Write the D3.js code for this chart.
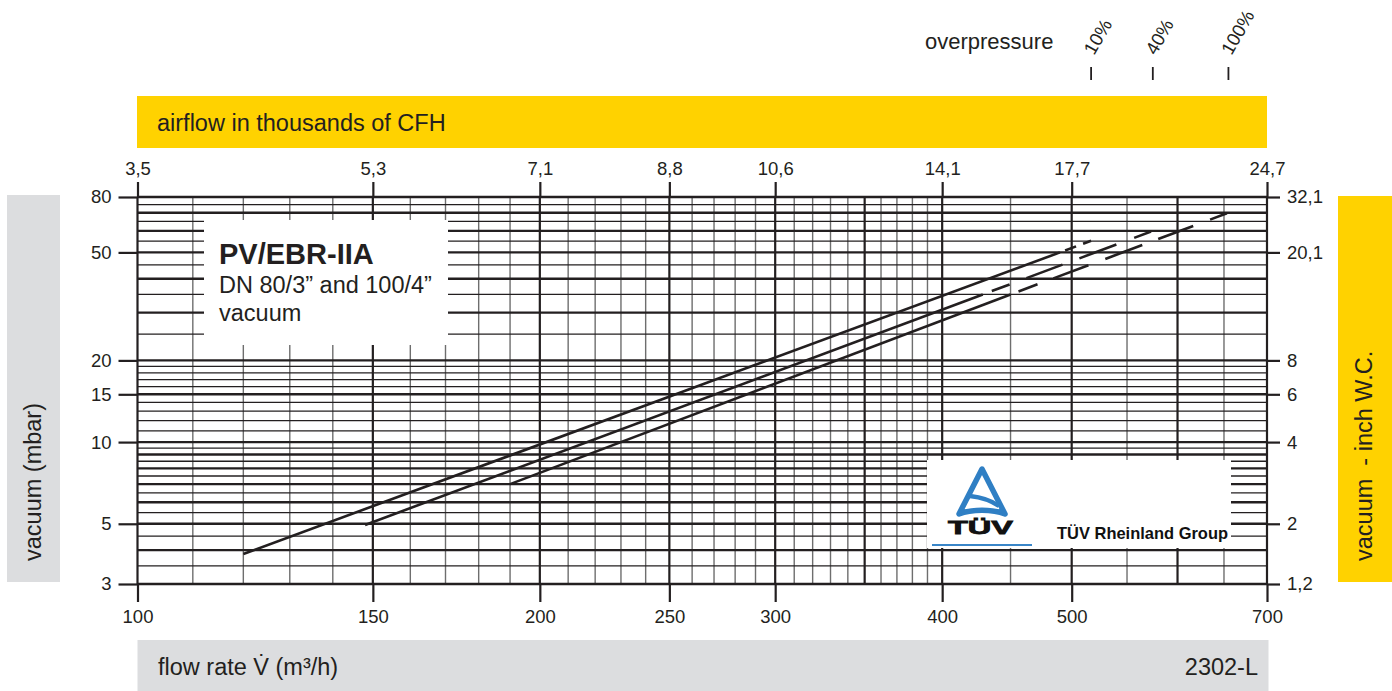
<!DOCTYPE html>
<html>
<head>
<meta charset="utf-8">
<script src="https://cdn.jsdelivr.net/npm/d3@7"></script>
<style>
	html, body { margin: 0; padding: 0; background: #fff; }
	svg { display: block; font-family: "Liberation Sans", Arial, sans-serif; }
</style>
</head>
<body>
<svg id="chart" width="1392" height="691"></svg>
<script>
'use strict';

// flow rate axis (m3/h) and the matching airflow in thousands of CFH
var flowTicks = [100, 150, 200, 250, 300, 400, 500, 700];
var flowLabels = ['100', '150', '200', '250', '300', '400', '500', '700'];
var cfhLabels = ['3,5', '5,3', '7,1', '8,8', '10,6', '14,1', '17,7', '24,7'];
var flowGridMajor = [100, 150, 200, 250, 300, 350, 400, 500, 600, 700];
var flowGridMinor = [110, 120, 130, 140, 160, 170, 180, 190, 210, 220, 230, 240, 260, 270, 280, 290,
	310, 320, 330, 340, 360, 370, 380, 390, 450, 550, 650];

// vacuum axis (mbar) and the matching inch W.C.
var vacuumTicks = [3, 5, 10, 15, 20, 50, 80];
var vacuumLabels = ['3', '5', '10', '15', '20', '50', '80'];
var inchLabels = ['1,2', '2', '4', '6', '8', '20,1', '32,1'];
var vacuumGridMajor = [3, 4, 5, 6, 7, 8, 9, 10, 15, 20, 30, 40, 50, 60, 70, 80];
var vacuumGridMinor = [3.5, 4.5, 5.5, 6.5, 7.5, 8.5, 9.5, 11, 12, 13, 14, 16, 17, 18, 19, 25, 35, 45, 55, 65, 75];

// curves: start, end of solid part, end of dashed part
var curveNames = ['10%', '40%', '100%'];
var curveFlow = [[120, 490, 517], [148, 429, 575], [190, 450, 655]];
var curveVacuum = [[3.87, 50, 55.2], [4.95, 35, 60], [7, 35, 70]];
var curveDash = ['0 5.5 11.7 7.5 30', '0 9.6 19 18 38.5 18 39.5 19 18 60', '0 8.5 20.3 17 37.4 18 39.5 17 37.4 18 18 60'];

var ink = '#231f20';
var yellow = '#ffd200';
var grey = '#dcdddf';
var fontFamily = '"Liberation Sans", Arial, sans-serif';

var svg = d3.select('#chart');

var x = d3.scaleLog().domain([100, 700]).range([137.5, 1267]);
var y = d3.scaleLog().domain([3, 80]).range([584, 197]);

// title bands
svg.append('rect').attr('x', 137).attr('y', 96).attr('width', 1130).attr('height', 52).attr('fill', yellow);
svg.append('rect').attr('x', 7).attr('y', 195).attr('width', 53).attr('height', 387).attr('fill', grey);
svg.append('rect').attr('x', 1338).attr('y', 196).attr('width', 54).attr('height', 386).attr('fill', yellow);
svg.append('rect').attr('x', 137.5).attr('y', 640).attr('width', 1131).attr('height', 51).attr('fill', grey);

svg.append('text').attr('x', 157).attr('y', 131).attr('font-size', 23.5).attr('fill', ink)
	.text('airflow in thousands of CFH');
svg.append('text').attr('x', 158).attr('y', 675).attr('font-size', 23.5).attr('fill', ink)
	.text('flow rate V\u0307 (m\u00b3/h)');
svg.append('text').attr('x', 1258).attr('y', 675).attr('font-size', 23.5).attr('fill', ink)
	.attr('text-anchor', 'end').text('2302-L');
svg.append('text').attr('transform', 'translate(41,561) rotate(-90)').attr('font-size', 23.5).attr('fill', ink)
	.text('vacuum (mbar)');
svg.append('text').attr('transform', 'translate(1372,561) rotate(-90)').attr('font-size', 23.5).attr('fill', ink)
	.attr('xml:space', 'preserve').text('vacuum  - inch W.C.');

// grid
var grid = svg.append('g');
grid.selectAll('line.vmin')
		.data(flowGridMinor)
		.enter()
		.append('line')
		.attr('x1', x).attr('x2', x)
		.attr('y1', y(80)).attr('y2', y(3))
		.attr('stroke', '#6e6e6e')
		.attr('stroke-width', 1.4);
grid.selectAll('line.hmin')
		.data(vacuumGridMinor)
		.enter()
		.append('line')
		.attr('x1', x(100)).attr('x2', x(700))
		.attr('y1', y).attr('y2', y)
		.attr('stroke', ink)
		.attr('stroke-width', 1.3);
grid.selectAll('line.hmaj')
		.data(vacuumGridMajor)
		.enter()
		.append('line')
		.attr('x1', x(100)).attr('x2', x(700))
		.attr('y1', y).attr('y2', y)
		.attr('stroke', ink)
		.attr('stroke-width', 2.4);
grid.selectAll('line.vmaj')
		.data(flowGridMajor)
		.enter()
		.append('line')
		.attr('x1', x).attr('x2', x)
		.attr('y1', y(80)).attr('y2', y(3))
		.attr('stroke', ink)
		.attr('stroke-width', 2.2);

// axes
var styleAxis = function(g) {
	g.attr('font-size', 18.5).attr('font-family', fontFamily);
	g.select('.domain').remove();
	g.selectAll('.tick line').attr('stroke', ink).attr('stroke-width', 2.2);
	g.selectAll('.tick text').attr('fill', ink);
};
var labelOf = function(list, ticks) {
	return function(d) { return list[ticks.indexOf(d)]; };
};

svg.append('g').attr('transform', 'translate(0,584)')
		.call(d3.axisBottom(x).tickValues(flowTicks).tickFormat(labelOf(flowLabels, flowTicks)).tickSize(18).tickPadding(8))
		.call(styleAxis);
svg.append('g').attr('transform', 'translate(0,197)')
		.call(d3.axisTop(x).tickValues(flowTicks).tickFormat(labelOf(cfhLabels, flowTicks)).tickSize(15).tickPadding(7))
		.call(styleAxis);
svg.append('g').attr('transform', 'translate(137.5,0)')
		.call(d3.axisLeft(y).tickValues(vacuumTicks).tickFormat(labelOf(vacuumLabels, vacuumTicks)).tickSize(19).tickPadding(7))
		.call(styleAxis);
svg.append('g').attr('transform', 'translate(1267,0)')
		.call(d3.axisRight(y).tickValues(vacuumTicks).tickFormat(labelOf(inchLabels, vacuumTicks)).tickSize(13).tickPadding(7))
		.call(styleAxis);

// label box
svg.append('rect').attr('x', 204).attr('y', 220).attr('width', 244).attr('height', 125).attr('fill', '#fff');
svg.append('text').attr('x', 219).attr('y', 264).attr('font-size', 29).attr('font-weight', 'bold').attr('fill', ink)
	.text('PV/EBR-IIA');
svg.append('text').attr('x', 219).attr('y', 293).attr('font-size', 23.5).attr('fill', ink)
	.text('DN 80/3\u201d and 100/4\u201d');
svg.append('text').attr('x', 219).attr('y', 321).attr('font-size', 23.5).attr('fill', ink)
	.text('vacuum');

// TUV logo box
svg.append('rect').attr('x', 927).attr('y', 460).attr('width', 304).attr('height', 88).attr('fill', '#fff');
var logo = svg.append('g').attr('transform', 'translate(957,467)');
logo.append('path')
	.attr('d', 'M25,2 L48,47 C36,42 14,42 2,47 Z')
	.attr('fill', 'none')
	.attr('stroke', '#2f7fc4')
	.attr('stroke-width', 5.5)
	.attr('stroke-linejoin', 'round');
logo.append('path')
	.attr('d', 'M13,29 C22,30 32,32 42,39')
	.attr('fill', 'none')
	.attr('stroke', '#2f7fc4')
	.attr('stroke-width', 4.5);
svg.append('text').attr('x', 948).attr('y', 534).attr('font-size', 18).attr('font-weight', 'bold')
	.attr('fill', '#111').attr('stroke', '#111').attr('stroke-width', 0.8)
	.attr('textLength', 65).attr('lengthAdjust', 'spacingAndGlyphs').text('T\u00dcV');
svg.append('line').attr('x1', 932).attr('x2', 1032).attr('y1', 545).attr('y2', 545)
	.attr('stroke', '#3a86c8').attr('stroke-width', 2);
svg.append('text').attr('x', 1057).attr('y', 539).attr('font-size', 17).attr('font-weight', 'bold')
	.attr('fill', '#111').attr('textLength', 171).attr('lengthAdjust', 'spacingAndGlyphs').text('T\u00dcV Rheinland Group');

// curves
var line = d3.line()
	.x(function(d) { return x(d[0]); })
	.y(function(d) { return y(d[1]); });

curveNames.forEach(function(name, i) {
	var pts = curveFlow[i].map(function(f, j) { return [f, curveVacuum[i][j]]; });
	svg.append('path')
		.attr('d', line(pts.slice(0, 2)))
		.attr('fill', 'none')
		.attr('stroke', ink)
		.attr('stroke-width', 2.6);
	svg.append('path')
		.attr('d', line(pts.slice(1)))
		.attr('fill', 'none')
		.attr('stroke', ink)
		.attr('stroke-width', 2.6)
		.attr('stroke-dasharray', curveDash[i]);
});

// overpressure markers at the curve ends
svg.append('text').attr('x', 925).attr('y', 49).attr('font-size', 22).attr('fill', ink).text('overpressure');
var over = svg.selectAll('g.over')
		.data(curveNames)
		.enter()
		.append('g')
		.attr('transform', function(d, i) { return 'translate(' + x(curveFlow[i][2]) + ',0)'; });
over.append('line')
		.attr('x1', 0).attr('x2', 0)
		.attr('y1', 67).attr('y2', 80)
		.attr('stroke', ink)
		.attr('stroke-width', 1.8);
over.append('text')
		.attr('transform', 'translate(3,56) rotate(-60)')
		.attr('font-size', 18.5)
		.attr('fill', ink)
		.text(function(d) { return d; });
</script>
</body>
</html>
